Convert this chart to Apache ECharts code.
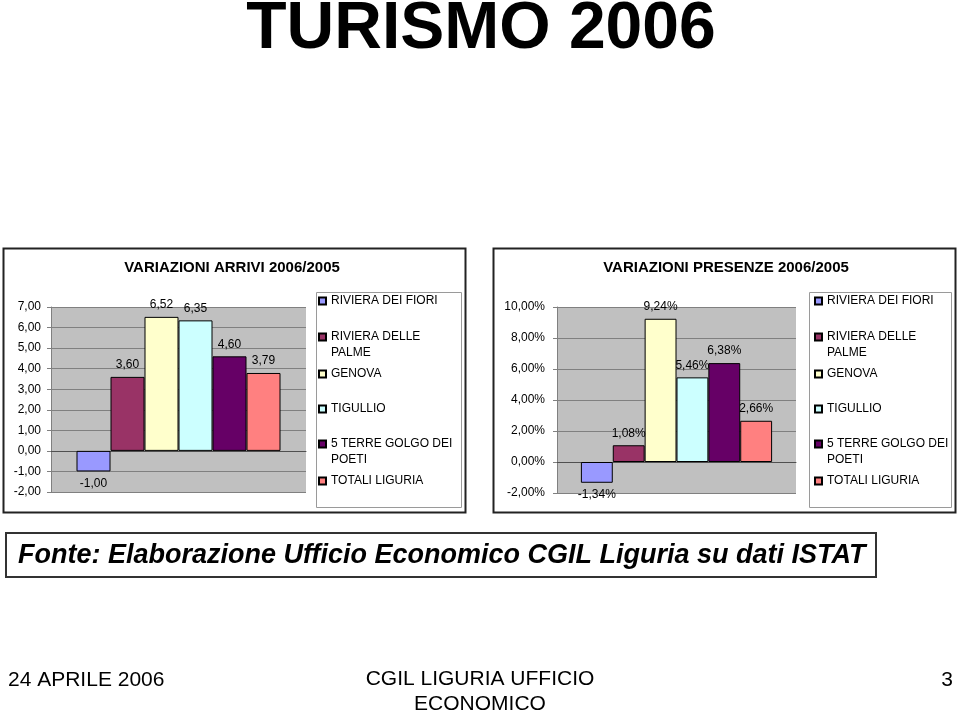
<!DOCTYPE html>
<html><head><meta charset="utf-8">
<script src="https://cdn.jsdelivr.net/npm/echarts@6/dist/echarts.min.js"></script>
<style>html,body{margin:0;padding:0;background:#fff}#c{width:960px;height:714px}</style>
</head><body><div id="c"></div>
<script>
// ---- data ----
const regions = ['RIVIERA DEI FIORI', 'RIVIERA DELLE PALME', 'GENOVA', 'TIGULLIO', '5 TERRE GOLGO DEI POETI', 'TOTALI LIGURIA'];
const arrivi = [-1.00, 3.60, 6.52, 6.35, 4.60, 3.79];
const presenze = [-1.34, 1.08, 9.24, 5.46, 6.38, 2.66];
const arriviAxis = { min: -2, max: 7, interval: 1 };
const presenzeAxis = { min: -2, max: 10, interval: 2 };
const mainTitle = 'TURISMO 2006';
const chartTitles = ['VARIAZIONI ARRIVI 2006/2005', 'VARIAZIONI PRESENZE 2006/2005'];
const sourceText = 'Fonte: Elaborazione Ufficio Economico CGIL Liguria su dati ISTAT';
const footerLeft = '24 APRILE 2006';
const footerCenter = 'CGIL LIGURIA UFFICIO\nECONOMICO';
const footerRight = '3';

// ---- styles ----
const colors = ['#9999FF', '#993366', '#FFFFCC', '#CCFFFF', '#660066', '#FF8080'];
const FF = 'Liberation Sans, Arial, Helvetica, sans-serif';
const legendWrap = {
  'RIVIERA DELLE PALME': '\nRIVIERA DELLE\nPALME',
  '5 TERRE GOLGO DEI POETI': '\n5 TERRE GOLGO DEI\nPOETI'
};
const legendCenters = [301, 337, 374, 409, 444, 481];
const fmtNum = v => v.toFixed(2).replace('.', ',');
const fmtPct = v => v.toFixed(2).replace('.', ',') + '%';

const chart = echarts.init(document.getElementById('c'), null, { renderer: 'canvas' });

function makeSeries(values, idx, fmt) {
  return values.map((v, i) => ({
    type: 'bar',
    name: regions[i],
    xAxisIndex: idx,
    yAxisIndex: idx,
    barGap: '0%',
    barCategoryGap: '20%',
    itemStyle: { color: colors[i], borderColor: '#000', borderWidth: 1 },
    label: {
      show: true, position: v < 0 ? 'bottom' : 'top', distance: 6,
      formatter: p => fmt(p.value), fontSize: 12, color: '#000', fontFamily: FF
    },
    data: [v]
  }));
}

function makeLegends(left) {
  return regions.map((r, i) => ({
    data: [r],
    left: left,
    top: legendCenters[i] - (legendWrap[r] ? 24 : 8),
    orient: 'vertical',
    icon: 'rect',
    itemWidth: 7, itemHeight: 7,
    padding: 0,
    selectedMode: false,
    formatter: n => legendWrap[n] || n,
    textStyle: { fontSize: 12, lineHeight: 16, color: '#000', fontFamily: FF }
  }));
}

function yAxis(idx, ax, fmt, margin) {
  return {
    type: 'value', gridIndex: idx, min: ax.min, max: ax.max, interval: ax.interval,
    axisLine: { show: true, lineStyle: { color: '#808080', width: 1 } },
    axisTick: { show: true, length: 4, lineStyle: { color: '#808080' } },
    splitLine: { show: true, lineStyle: { color: '#808080', width: 1 } },
    axisLabel: { formatter: fmt, margin: margin, fontSize: 12, color: '#000', fontFamily: FF }
  };
}
function xAxis(idx) {
  return {
    type: 'category', gridIndex: idx, data: [''],
    axisLine: { show: true, onZero: true, lineStyle: { color: '#505050', width: 1 } },
    axisTick: { show: false }, axisLabel: { show: false }, splitLine: { show: false }
  };
}

const option = {
  animation: false,
  backgroundColor: '#fff',
  textStyle: { fontFamily: FF },
  grid: [
    { left: 51, top: 307, width: 255, height: 185, show: true, backgroundColor: '#c0c0c0', borderWidth: 0, outerBoundsMode: 'none' },
    { left: 557, top: 307, width: 239, height: 186, show: true, backgroundColor: '#c0c0c0', borderWidth: 0, outerBoundsMode: 'none' }
  ],
  xAxis: [xAxis(0), xAxis(1)],
  yAxis: [yAxis(0, arriviAxis, fmtNum, 10), yAxis(1, presenzeAxis, fmtPct, 12)],
  legend: makeLegends(318).concat(makeLegends(814)),
  series: makeSeries(arrivi, 0, fmtNum).concat(makeSeries(presenze, 1, fmtPct)),
  graphic: [
    { type: 'rect', silent: true, z: -1, shape: { x: 3.5, y: 248.5, width: 462, height: 264 }, style: { fill: '#fff', stroke: '#222', lineWidth: 2 } },
    { type: 'rect', silent: true, z: -1, shape: { x: 493.5, y: 248.5, width: 462, height: 264 }, style: { fill: '#fff', stroke: '#222', lineWidth: 2 } },
    { type: 'rect', silent: true, z: -1, shape: { x: 316.5, y: 292.5, width: 145, height: 215 }, style: { fill: '#fff', stroke: '#9a9a9a', lineWidth: 1 } },
    { type: 'rect', silent: true, z: -1, shape: { x: 809.5, y: 292.5, width: 142, height: 215 }, style: { fill: '#fff', stroke: '#9a9a9a', lineWidth: 1 } },
    { type: 'rect', silent: true, shape: { x: 6, y: 533, width: 870, height: 44 }, style: { fill: 'none', stroke: '#333', lineWidth: 2 } },
    { type: 'text', silent: true, x: 481, y: 30, style: { text: mainTitle, align: 'center', verticalAlign: 'middle', font: 'bold 66px ' + FF, fill: '#000' } },
    { type: 'text', silent: true, x: 232, y: 268, style: { text: chartTitles[0], align: 'center', verticalAlign: 'middle', font: 'bold 15px ' + FF, fill: '#000' } },
    { type: 'text', silent: true, x: 726, y: 268, style: { text: chartTitles[1], align: 'center', verticalAlign: 'middle', font: 'bold 15px ' + FF, fill: '#000' } },
    { type: 'text', silent: true, x: 18, y: 556, style: { text: sourceText, align: 'left', verticalAlign: 'middle', font: 'italic bold 27px ' + FF, fill: '#000' } },
    { type: 'text', silent: true, x: 8, y: 680, style: { text: footerLeft, align: 'left', verticalAlign: 'middle', font: '21px ' + FF, fill: '#000' } },
    { type: 'text', silent: true, x: 480, y: 692, style: { text: footerCenter, align: 'center', verticalAlign: 'middle', font: '21px ' + FF, lineHeight: 25, fill: '#000' } },
    { type: 'text', silent: true, x: 953, y: 680, style: { text: footerRight, align: 'right', verticalAlign: 'middle', font: '21px ' + FF, fill: '#000' } }
  ]
};
chart.setOption(option);
</script>
</body></html>
